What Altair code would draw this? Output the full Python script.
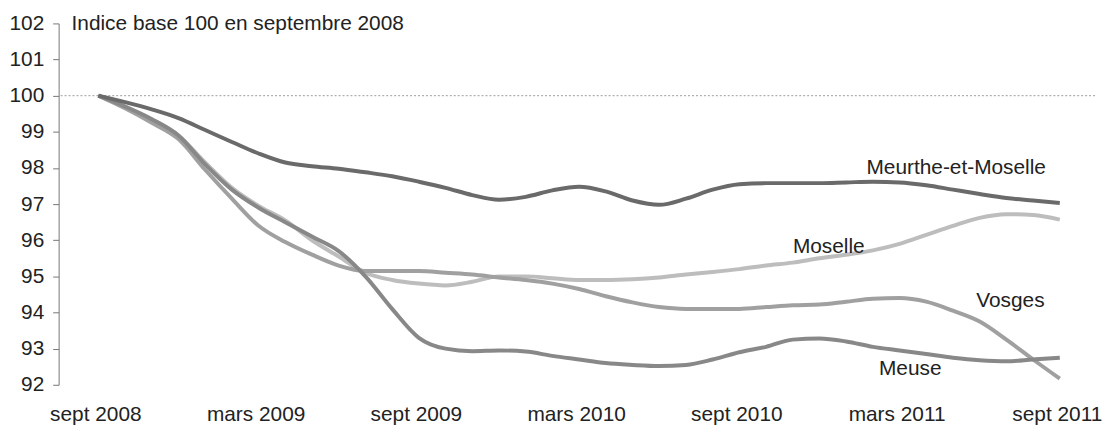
import altair as alt
import pandas as pd

# month index 0 = sept 2008 ... 36 = sept 2011
months = list(range(37))
tick_labels = ["sept 2008", "mars 2009", "sept 2009", "mars 2010",
               "sept 2010", "mars 2011", "sept 2011"]
y_ticks = [92, 93, 94, 95, 96, 97, 98, 99, 100, 101, 102]

meurthe = [100, 99.82, 99.62, 99.38, 99.05, 98.72, 98.4, 98.15, 98.05, 97.98,
           97.88, 97.77, 97.62, 97.45, 97.25, 97.12, 97.2, 97.38, 97.48, 97.35,
           97.1, 96.98, 97.15, 97.4, 97.55, 97.58, 97.58, 97.58, 97.6, 97.62,
           97.6, 97.52, 97.4, 97.28, 97.17, 97.1, 97.03]
moselle = [100, 99.7, 99.35, 98.9, 98.15, 97.45, 96.95, 96.55, 96.0, 95.55,
           95.1, 94.9, 94.8, 94.75, 94.85, 95.0, 95.0, 94.95, 94.9, 94.9,
           94.92, 94.97, 95.05, 95.12, 95.2, 95.3, 95.38, 95.5, 95.6, 95.72,
           95.9, 96.15, 96.4, 96.62, 96.72, 96.7, 96.57]
vosges = [100, 99.65, 99.25, 98.8, 97.95, 97.15, 96.4, 95.95, 95.6, 95.3,
          95.15, 95.15, 95.15, 95.1, 95.05, 94.97, 94.9, 94.8, 94.65, 94.45,
          94.28, 94.15, 94.1, 94.1, 94.1, 94.15, 94.2, 94.22, 94.3, 94.38,
          94.4, 94.3, 94.05, 93.75, 93.25, 92.7, 92.17]
meuse = [100, 99.7, 99.35, 98.9, 98.1, 97.4, 96.9, 96.5, 96.1, 95.7,
         95.0, 94.1, 93.3, 93.0, 92.93, 92.95, 92.92, 92.8, 92.7, 92.6,
         92.55, 92.52, 92.55, 92.7, 92.9, 93.05, 93.25, 93.28, 93.2, 93.05,
         92.95, 92.85, 92.75, 92.68, 92.65, 92.7, 92.75]

series_names = ["Moselle", "Vosges", "Meuse", "Meurthe-et-Moselle"]
series_values = [moselle, vosges, meuse, meurthe]
series_colors = ["#bdbdbd", "#a0a0a0", "#888888", "#6a6a6a"]

label_names = ["Meurthe-et-Moselle", "Moselle", "Vosges", "Meuse"]
label_month = [32.12, 27.35, 34.15, 30.4]
label_value = [97.99, 95.82, 94.31, 92.43]

baseline_value = [100]

rows = []
for order, (name, vals) in enumerate(zip(series_names, series_values)):
    for m, v in zip(months, vals):
        rows.append({"month": m, "value": v, "serie": name, "ord": order})
df = pd.DataFrame(rows)
labels_df = pd.DataFrame({"month": label_month, "value": label_value, "name": label_names})

FONT = "Liberation Sans"
FS = 21
label_expr = "[" + ",".join("'%s'" % t for t in tick_labels) + "][round(datum.value/6)]"

x_scale = alt.Scale(domain=[-1.487, 37.32], nice=False, zero=False)
y_scale = alt.Scale(domain=[92, 102], nice=False, zero=False)

x_axis = alt.Axis(values=[0, 6, 12, 18, 24, 30, 36], labelExpr=label_expr,
                  domain=False, ticks=False, grid=False, title=None,
                  labelFontSize=FS, labelPadding=19, labelOffset=-3, labelColor="#222222",
                  labelFont=FONT, labelOverlap=False, labelFlush=False)
y_axis = alt.Axis(values=y_ticks, grid=False, title=None,
                  domainColor="#777777", tickColor="#777777", tickSize=6,
                  labelFontSize=FS, labelPadding=9, labelColor="#222222",
                  labelFont=FONT, labelOverlap=False)

X = alt.X("month:Q", scale=x_scale, axis=x_axis)
Y = alt.Y("value:Q", scale=y_scale, axis=y_axis)

rule = alt.Chart(pd.DataFrame({"value": baseline_value})).mark_rule(
    color="#9a9a9a", strokeDash=[2, 2], strokeWidth=1
).encode(y=Y)

lines = alt.Chart(df).mark_line(strokeWidth=4, interpolate="monotone").encode(
    x=X, y=Y,
    color=alt.Color("serie:N", scale=alt.Scale(domain=series_names, range=series_colors), legend=None),
    order=alt.Order("month:Q"),
    detail="serie:N",
)

texts = alt.Chart(labels_df).mark_text(
    font=FONT, fontSize=FS, color="#222222", align="center", baseline="middle"
).encode(x=X, y=Y, text="name:N")

title = alt.Chart(pd.DataFrame({"t": ["Indice base 100 en septembre 2008"]})).mark_text(
    font=FONT, fontSize=FS, color="#222222", align="left", baseline="middle"
).encode(x=alt.value(13), y=alt.value(1), text="t:N")

chart = alt.layer(rule, lines, texts, title).properties(
    width=1044, height=364,
    autosize=alt.AutoSizeParams(type="none"),
    padding={"left": 51, "top": 14, "right": 8, "bottom": 41},
    background="white",
).configure_view(stroke=None)

chart.save("out.html", embed_options={"renderer": "svg", "actions": False})
